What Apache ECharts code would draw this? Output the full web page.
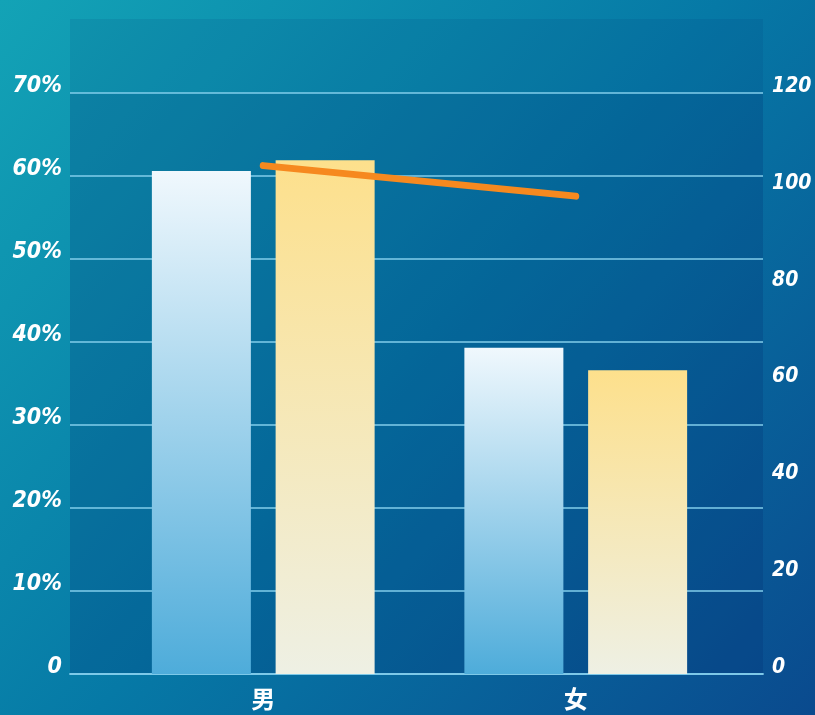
<!DOCTYPE html>
<html>
<head>
<meta charset="utf-8">
<script src="https://cdn.jsdelivr.net/npm/echarts@6/dist/echarts.min.js"></script>
<style>
  html, body { margin: 0; padding: 0; }
  #main { width: 815px; height: 715px; }
</style>
</head>
<body>
<div id="main"></div>
<script>
// 数据
const categories = ['男', '女'];
const blueValues = [60.6, 39.3];   // 左轴 %
const yellowValues = [61.9, 36.6]; // 左轴 %
const lineValues = [105, 98.7];    // 右轴

const leftMax = 70, leftStep = 10;
const rightMax = 120, rightStep = 20;

const gridTop = 93, gridBottom = 41;

const numLabel = {
  color: '#ffffff',
  fontSize: 23,
  fontStyle: 'italic',
  fontWeight: 'bold',
  fontFamily: '"DejaVu Sans Condensed", "DejaVu Sans", sans-serif',
  verticalAlign: 'bottom',
  lineHeight: 13
};

const chart = echarts.init(document.getElementById('main'));

chart.setOption({
  backgroundColor: {
    type: 'linear', x: 0, y: 0, x2: 1, y2: 1,
    colorStops: [
      { offset: 0, color: '#13a3b6' },
      { offset: 0.5, color: '#0679a6' },
      { offset: 1, color: '#0a4a8e' }
    ]
  },
  animation: false,
  graphic: [
    {
      type: 'rect',
      shape: { x: 70, y: 19, width: 693, height: gridTop - 19 },
      style: { fill: 'rgba(0,40,110,0.10)' },
      silent: true
    }
  ],
  grid: [
    // 网格线和坐标轴
    { left: 70, right: 52, top: gridTop, bottom: gridBottom, show: true,
      backgroundColor: 'rgba(0,40,110,0.22)', borderWidth: 0,
      outerBoundsMode: 'none' },
    // 柱子和折线
    { left: 107, right: 83, top: gridTop, bottom: gridBottom,
      outerBoundsMode: 'none' }
  ],
  xAxis: [
    {
      type: 'category', gridIndex: 0, data: categories,
      axisLine: { show: true, lineStyle: { color: 'rgba(130,205,235,0.85)', width: 2 } },
      axisTick: { show: false },
      axisLabel: { show: false }
    },
    {
      type: 'category', gridIndex: 1, data: categories,
      axisLine: { show: false },
      axisTick: { show: false },
      axisLabel: {
        color: '#ffffff', fontSize: 24, margin: 13,
        fontFamily: '"Noto Sans CJK SC", sans-serif', fontWeight: 'bold'
      }
    }
  ],
  yAxis: [
    {
      type: 'value', gridIndex: 0, position: 'left',
      min: 0, max: leftMax, interval: leftStep,
      axisLine: { show: false }, axisTick: { show: false },
      splitLine: { lineStyle: { color: 'rgba(130,205,235,0.75)', width: 2 } },
      axisLabel: Object.assign({}, numLabel, {
        margin: 8,
        formatter: v => v === 0 ? '0' : v + '%'
      })
    },
    {
      type: 'value', gridIndex: 0, position: 'right',
      min: 0, max: rightMax, interval: rightStep,
      axisLine: { show: false }, axisTick: { show: false },
      splitLine: { show: false },
      axisLabel: Object.assign({}, numLabel, { margin: 9, fontSize: 21 })
    },
    {
      type: 'value', gridIndex: 1, min: 0, max: leftMax, interval: leftStep,
      show: false, splitLine: { show: false }
    },
    {
      type: 'value', gridIndex: 1, min: 0, max: rightMax, interval: rightStep,
      show: false, splitLine: { show: false }
    }
  ],
  series: [
    {
      type: 'bar', xAxisIndex: 1, yAxisIndex: 2,
      data: blueValues, barWidth: 99, barGap: '25%',
      itemStyle: {
        color: new echarts.graphic.LinearGradient(0, 0, 0, 1, [
          { offset: 0, color: '#f0f8fd' },
          { offset: 1, color: '#4eacda' }
        ])
      }
    },
    {
      type: 'bar', xAxisIndex: 1, yAxisIndex: 2,
      data: yellowValues, barWidth: 99, barGap: '25%',
      itemStyle: {
        color: new echarts.graphic.LinearGradient(0, 0, 0, 1, [
          { offset: 0, color: '#fde08c' },
          { offset: 1, color: '#eef0e4' }
        ])
      }
    },
    {
      type: 'line', xAxisIndex: 1, yAxisIndex: 3,
      data: lineValues, showSymbol: false, symbol: 'none',
      lineStyle: { color: '#f6891f', width: 7, cap: 'round' },
      z: 5
    }
  ]
});
</script>
</body>
</html>
